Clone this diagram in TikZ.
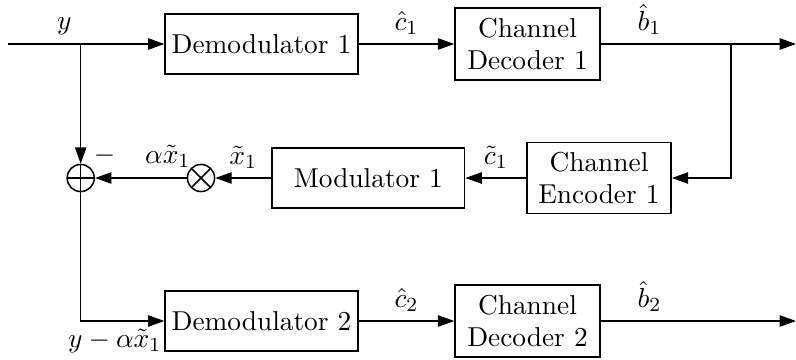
\documentclass[tikz,border=0pt]{standalone}
\usepackage{amsmath,amssymb}
\usepackage{tikz}
\usetikzlibrary{arrows.meta,positioning}

\begin{document}
\begin{tikzpicture}[
  x=0.014cm, y=-0.014cm,
  font=\fontsize{10.9}{12.5}\selectfont,
  block/.style={draw, semithick, align=center, inner sep=1pt},
  demod/.style={block, minimum width=2.7cm, minimum height=0.84cm},
  coder/.style={block, minimum width=2.03cm, minimum height=1.01cm},
  adder/.style={draw, semithick, circle, minimum size=0.38cm, inner sep=0pt,
    path picture={\draw[semithick] (path picture bounding box.north) -- (path picture bounding box.south)
      (path picture bounding box.west) -- (path picture bounding box.east);}},
  mixer/.style={draw, semithick, circle, minimum size=0.38cm, inner sep=0pt,
    path picture={\draw[semithick] (path picture bounding box.north west) -- (path picture bounding box.south east)
      (path picture bounding box.south west) -- (path picture bounding box.north east);}},
  arrow/.style={-{Triangle[length=6.5pt,width=4.5pt]}, semithick}
]
\useasboundingbox (0,0) rectangle (796,360);
% first user
\node[demod] (demodA) at (261.5,44) {Demodulator 1};
\node[coder, right=1.34cm of demodA] (decA) {Channel\\Decoder 1};
% re-encoding and cancellation
\node[coder, minimum width=2.02cm, minimum height=0.99cm] (encA) at (599,178) {Channel\\Encoder 1};
\node[demod, left=0.85cm of encA] (modA) {Modulator 1};
\node[mixer] (mult) at (201,178) {};
\node[adder] (sum) at (80.7,178) {};
% second user
\node[demod] (demodB) at (261.5,321) {Demodulator 2};
\node[coder, right=1.34cm of demodB] (decB) {Channel\\Decoder 2};
\coordinate (in) at (8,44);
\coordinate (tapA) at (80.7,44);
\coordinate (tapB) at (731,44);
\coordinate (outA) at (796,44);
\coordinate (outB) at (796,321);

\draw[arrow] (in) -- node[above, pos=0.36] {$y$} (demodA);
\draw[arrow] (demodA) -- node[above] {$\hat{c}_1$} (decA);
\draw[arrow] (decA) -- node[above, pos=0.25] {$\hat{b}_1$} (outA);
\draw[arrow] (tapB) |- (encA);
\draw[arrow] (encA) -- node[above] {$\tilde{c}_1$} (modA);
\draw[arrow] (modA) -- node[above] {$\tilde{x}_1$} (mult);
\draw[arrow] (mult) -- (sum);
\node[above left, inner sep=0pt] at (mult.north west) {$\alpha\tilde{x}_1$};
\draw[arrow] (tapA) -- (sum);
\node[above right, inner sep=1pt] at (sum.north east) {$-$};
\draw[arrow] (sum) |- (demodB);
\node[anchor=north east, inner sep=1pt] at ([yshift=-2pt]demodB.west) {$y-\alpha\tilde{x}_1$};
\draw[arrow] (demodB) -- node[above] {$\hat{c}_2$} (decB);
\draw[arrow] (decB) -- node[above, pos=0.25] {$\hat{b}_2$} (outB);
\end{tikzpicture}
\end{document}
